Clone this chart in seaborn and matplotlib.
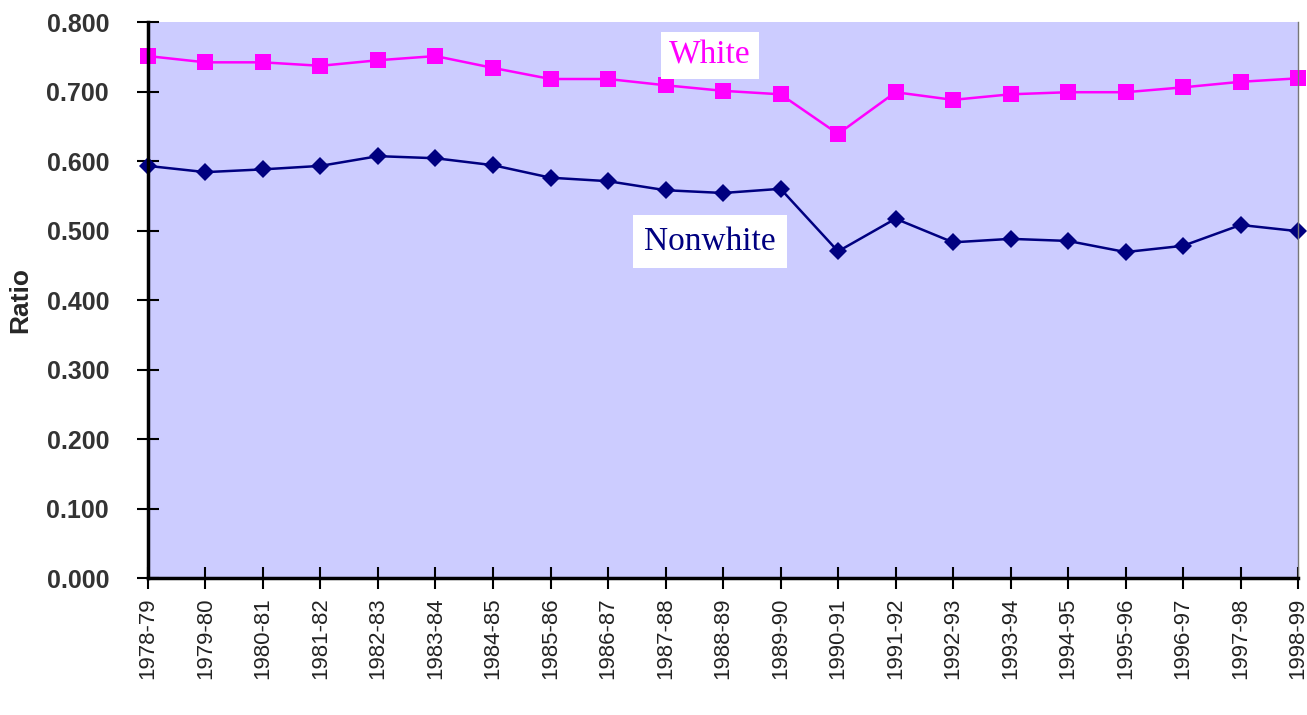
import numpy as np
import pandas as pd
import matplotlib
matplotlib.use("Agg")
import matplotlib.pyplot as plt
import seaborn as sns

years = ["1978-79", "1979-80", "1980-81", "1981-82", "1982-83", "1983-84", "1984-85",
         "1985-86", "1986-87", "1987-88", "1988-89", "1989-90", "1990-91", "1991-92",
         "1992-93", "1993-94", "1994-95", "1995-96", "1996-97", "1997-98", "1998-99"]
white = [0.751, 0.742, 0.742, 0.737, 0.745, 0.751, 0.734, 0.718, 0.718, 0.709, 0.701,
         0.696, 0.639, 0.699, 0.688, 0.696, 0.699, 0.699, 0.706, 0.714, 0.719]
nonwhite = [0.593, 0.584, 0.588, 0.593, 0.607, 0.604, 0.594, 0.576, 0.571, 0.558, 0.554,
            0.560, 0.470, 0.517, 0.483, 0.488, 0.485, 0.469, 0.478, 0.508, 0.499]
y_ticks = [0.0, 0.1, 0.2, 0.3, 0.4, 0.5, 0.6, 0.7, 0.8]

sns.set_style("white")
plt.rcParams["font.family"] = ["Liberation Sans", "DejaVu Sans"]

df = pd.DataFrame({"pos": np.arange(len(years)), "White": white, "Nonwhite": nonwhite})

fig = plt.figure(figsize=(13.07, 7.15), dpi=100)
ax = fig.add_axes([0.1132, 0.1916, 0.8800, 0.7776])
ax.set_facecolor("#CCCCFF")

sns.lineplot(data=df, x="pos", y="White", ax=ax, color="#FF00FF", marker="s",
             markersize=11, markeredgewidth=0, linewidth=1.8, clip_on=False)
sns.lineplot(data=df, x="pos", y="Nonwhite", ax=ax, color="#000080", marker="D",
             markersize=9, markeredgewidth=0, linewidth=1.8, clip_on=False)

ax.set_xlim(0, len(years) - 1)
ax.set_ylim(0, 0.8)
ax.set_xticks(df["pos"])
ax.set_xticklabels(years, rotation=90, fontsize=16, color="#222222")
ax.set_yticks(y_ticks)
ax.set_yticklabels([f"{v:.3f}" for v in y_ticks], fontsize=18, fontweight="bold", color="#333333")
ax.tick_params(axis="both", direction="inout", length=16, width=1.5, color="black",
               bottom=True, left=True)
ax.tick_params(axis="y", pad=20)
ax.tick_params(axis="x", pad=6)
ax.set_xlabel("")
ax.set_ylabel("Ratio", fontsize=19, fontweight="bold", labelpad=10)

for side in ["left", "bottom"]:
    ax.spines[side].set_color("black")
    ax.spines[side].set_linewidth(2.5)
ax.spines["top"].set_visible(False)
ax.spines["right"].set_color("#777777")
ax.spines["right"].set_linewidth(1)

ax.text(9.77, 0.752, "White", color="#FF00FF", fontsize=24, family="Liberation Serif",
        ha="center", va="center",
        bbox=dict(facecolor="white", edgecolor="none", pad=6))
ax.text(9.77, 0.484, "Nonwhite", color="#000080", fontsize=24, family="Liberation Serif",
        ha="center", va="center",
        bbox=dict(facecolor="white", edgecolor="none", pad=8))

fig.savefig("out.png", dpi=100)
